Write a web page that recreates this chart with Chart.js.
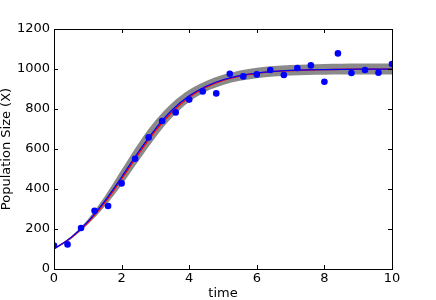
<!DOCTYPE html>
<html>
<head>
<meta charset="utf-8">
<script src="https://cdn.jsdelivr.net/npm/chart.js@4/dist/chart.umd.min.js"></script>
<style>
  html, body { margin: 0; padding: 0; background: #fff; }
  #wrap { width: 436px; height: 300px; }
</style>
</head>
<body>
<div id="wrap"><canvas id="popChart" width="436" height="300"></canvas></div>
<script>
// observed samples
const obsTime = [0, 0.4, 0.8, 1.2, 1.6, 2.0, 2.4, 2.8, 3.2, 3.6, 4.0, 4.4, 4.8, 5.2, 5.6, 6.0, 6.4, 6.8, 7.2, 7.6, 8.0, 8.4, 8.8, 9.2, 9.6, 10];
const obsPop = [117, 123, 205, 291, 315, 428, 551, 658, 740, 783, 847, 888, 878, 976, 963, 973, 995, 970, 1005, 1018, 936, 1078, 980, 995, 981, 1025];

// curves
const curveTime = [0, 0.5, 1, 1.5, 2, 2.5, 3, 3.5, 4, 4.5, 5, 5.5, 6, 6.5, 7, 7.5, 8, 8.5, 9, 9.5, 10];
const truePop = [100, 155, 232, 332, 451, 575, 691, 786, 859, 909, 943, 965, 978, 987, 992, 995, 997, 998, 999, 999, 1000];
const fitPop = [101, 157, 237, 339, 460, 586, 701, 796, 866, 914, 946, 967, 980, 988, 993, 996, 997, 998, 999, 999, 1000];
const bandUpper = [103, 163, 248, 362, 496, 628, 742, 831, 896, 940, 971, 992, 1006, 1015, 1020, 1023, 1025, 1026, 1027, 1028, 1028];
const bandLower = [97, 149, 222, 312, 420, 540, 658, 759, 835, 887, 920, 941, 954, 962, 967, 970, 971, 972, 973, 973, 973];

const xTicks = [0, 2, 4, 6, 8, 10];
const yTicks = [0, 200, 400, 600, 800, 1000, 1200];

const FONT = 'DejaVu Sans';
const NONE = 'rgba(0,0,0,0)';

function pairs(xs, ys) {
    return xs.map((x, i) => ({ x: x, y: ys[i] }));
}

// matplotlib-like frame with inward ticks on all four sides
const framePlugin = {
    id: 'frame',
    afterDraw(chart) {
        const { ctx, chartArea: a, scales } = chart;
        const len = 4;
        ctx.save();
        ctx.strokeStyle = '#000';
        ctx.lineWidth = 1;
        ctx.beginPath();
        xTicks.forEach(v => {
            const px = Math.round(scales.x.getPixelForValue(v)) + 0.5;
            ctx.moveTo(px, a.bottom); ctx.lineTo(px, a.bottom - len);
            ctx.moveTo(px, a.top); ctx.lineTo(px, a.top + len);
        });
        yTicks.forEach(v => {
            const py = Math.round(scales.y.getPixelForValue(v)) + 0.5;
            ctx.moveTo(a.left, py); ctx.lineTo(a.left + len, py);
            ctx.moveTo(a.right, py); ctx.lineTo(a.right - len, py);
        });
        ctx.stroke();
        ctx.strokeRect(Math.round(a.left) + 0.5, Math.round(a.top) + 0.5,
            Math.round(a.right - a.left), Math.round(a.bottom - a.top));
        ctx.restore();
    }
};

new Chart(document.getElementById('popChart'), {
    type: 'scatter',
    data: {
        datasets: [
            {
                type: 'line',
                label: 'upper',
                data: pairs(curveTime, bandUpper),
                borderColor: NONE,
                borderWidth: 0,
                pointRadius: 0,
                backgroundColor: '#8a8a8a',
                fill: '+1',
                cubicInterpolationMode: 'monotone',
                clip: 0,
                order: 4
            },
            {
                type: 'line',
                label: 'lower',
                data: pairs(curveTime, bandLower),
                borderColor: NONE,
                borderWidth: 0,
                pointRadius: 0,
                fill: false,
                cubicInterpolationMode: 'monotone',
                clip: 0,
                order: 4
            },
            {
                type: 'line',
                label: 'true',
                data: pairs(curveTime, truePop),
                borderColor: '#ff0000',
                borderWidth: 1.4,
                pointRadius: 0,
                fill: false,
                cubicInterpolationMode: 'monotone',
                clip: 0,
                order: 3
            },
            {
                type: 'line',
                label: 'fit',
                data: pairs(curveTime, fitPop),
                borderColor: '#0000ff',
                borderWidth: 1.2,
                pointRadius: 0,
                fill: false,
                cubicInterpolationMode: 'monotone',
                clip: 0,
                order: 2
            },
            {
                label: 'observed',
                data: pairs(obsTime, obsPop),
                backgroundColor: '#0000ff',
                borderColor: '#0000ff',
                borderWidth: 0,
                pointRadius: 3.3,
                clip: 0,
                order: 1
            }
        ]
    },
    options: {
        responsive: false,
        animation: false,
        layout: { padding: { left: 0, right: 44, top: 29, bottom: 0 } },
        plugins: {
            legend: { display: false },
            tooltip: { enabled: false }
        },
        scales: {
            x: {
                type: 'linear',
                min: 0,
                max: 10,
                afterFit: s => { s.height = 31; },
                afterBuildTicks: s => { s.ticks = xTicks.map(v => ({ value: v })); },
                grid: { display: false, drawTicks: false },
                border: { display: false },
                ticks: {
                    padding: 2,
                    color: '#000',
                    font: { family: FONT, size: 13 },
                    maxRotation: 0,
                    callback: v => String(v)
                },
                title: {
                    display: true,
                    text: 'time',
                    color: '#000',
                    font: { family: FONT, size: 13, lineHeight: 1 },
                    padding: 0
                }
            },
            y: {
                type: 'linear',
                min: 0,
                max: 1200,
                afterFit: s => { s.width = 54; },
                afterBuildTicks: s => { s.ticks = yTicks.map(v => ({ value: v })); },
                grid: { display: false, drawTicks: false },
                border: { display: false },
                ticks: {
                    padding: 4,
                    color: '#000',
                    font: { family: FONT, size: 13 },
                    callback: v => String(v)
                },
                title: {
                    display: true,
                    text: 'Population Size (X)',
                    color: '#000',
                    font: { family: FONT, size: 13, lineHeight: 1 },
                    padding: 0
                }
            }
        }
    },
    plugins: [framePlugin]
});
</script>
</body>
</html>
